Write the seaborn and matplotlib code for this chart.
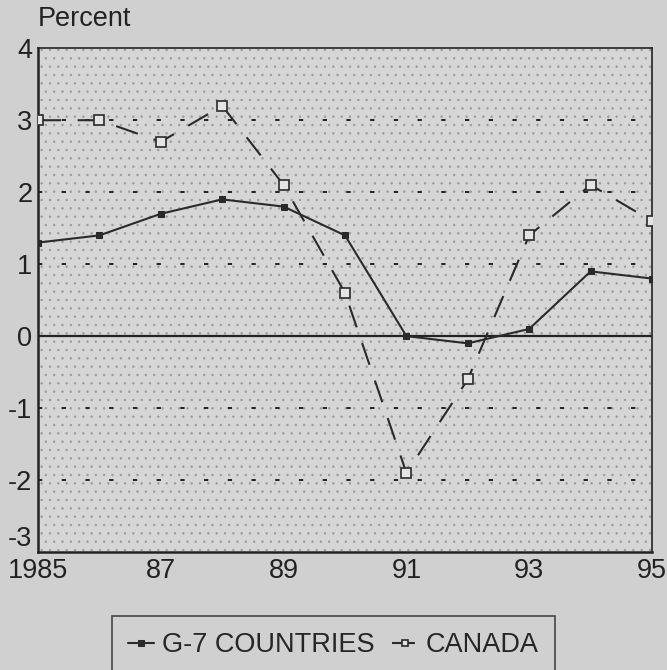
import numpy as np
import pandas as pd
import seaborn as sns
import matplotlib.pyplot as plt

years = [1985, 1986, 1987, 1988, 1989, 1990, 1991, 1992, 1993, 1994, 1995]
g7 = [1.3, 1.4, 1.7, 1.9, 1.8, 1.4, 0.0, -0.1, 0.1, 0.9, 0.8]
canada = [3.0, 3.0, 2.7, 3.2, 2.1, 0.6, -1.9, -0.6, 1.4, 2.1, 1.6]
xticks = [1985, 1987, 1989, 1991, 1993, 1995]
xlabels = ["1985", "87", "89", "91", "93", "95"]

sns.set_style("white")
plt.rcParams["font.family"] = ["Liberation Sans", "DejaVu Sans"]
plt.rcParams["hatch.color"] = "#9a9a9a"
plt.rcParams["hatch.linewidth"] = 0.5

bg = "#d0d0d0"
fs = 19.5
fig = plt.figure(figsize=(6.67, 6.70), dpi=100, facecolor=bg)
ax = fig.add_axes([0.057, 0.176, 0.9205, 0.752])
ax.set_facecolor("#d6d6d6")
ax.patch.set_hatch("..")
ax.patch.set_edgecolor("#9a9a9a")

df = pd.DataFrame({"year": years, "G-7 COUNTRIES": g7, "CANADA": canada})

# dotted reference lines at each integer, solid zero line
for v in [-2, -1, 1, 2, 3]:
    ax.axhline(v, color="#222222", lw=1.4, ls=(0, (2.2, 10)), zorder=1)
ax.axhline(0, color="#222222", lw=1.6, zorder=2)

sns.lineplot(data=df, x="year", y="G-7 COUNTRIES", ax=ax, color="#2a2a2a",
             lw=1.5, marker="s", markersize=4, markeredgecolor="#2a2a2a",
             label="G-7 COUNTRIES", zorder=3)
sns.lineplot(data=df, x="year", y="CANADA", ax=ax, color="#2a2a2a",
             lw=1.5, linestyle=(0, (11, 8)), marker="s", markersize=7.5,
             markerfacecolor="#e4e4e4", markeredgecolor="#2a2a2a",
             markeredgewidth=1.2, label="CANADA", zorder=4)

ax.set_xlim(1985, 1995)
ax.set_ylim(-3, 4)
ax.set_xticks(xticks)
ax.set_xticklabels(xlabels)
ax.set_yticks(range(-3, 5))
ax.set_yticklabels([str(v) for v in range(-3, 5)])
ax.tick_params(axis="both", length=0, labelsize=fs, colors="#222222")
ax.tick_params(axis="x", pad=4)
ax.tick_params(axis="y", pad=4)
ax.get_yticklabels()[0].set_va("bottom")
ax.set_xlabel("")
ax.set_ylabel("")
for s in ax.spines.values():
    s.set_color("#222222")
    s.set_linewidth(1.2)
ax.spines["left"].set_linewidth(1.8)
ax.spines["bottom"].set_linewidth(1.8)

fig.text(0.057, 0.972, "Percent", fontsize=fs, color="#222222", va="center")

leg = ax.legend(loc="center", bbox_to_anchor=(0.5, 0.037), bbox_transform=fig.transFigure,
                ncol=2, frameon=True, fancybox=False, fontsize=fs, handlelength=0.96,
                handletextpad=0.3, columnspacing=0.63, borderpad=0.6)
leg.get_frame().set_edgecolor("#222222")
leg.get_frame().set_facecolor(bg)
leg.get_frame().set_linewidth(1.2)
for h in leg.legend_handles:
    h.set_markersize(4.5)

fig.savefig("out.png", dpi=100, facecolor=bg)
